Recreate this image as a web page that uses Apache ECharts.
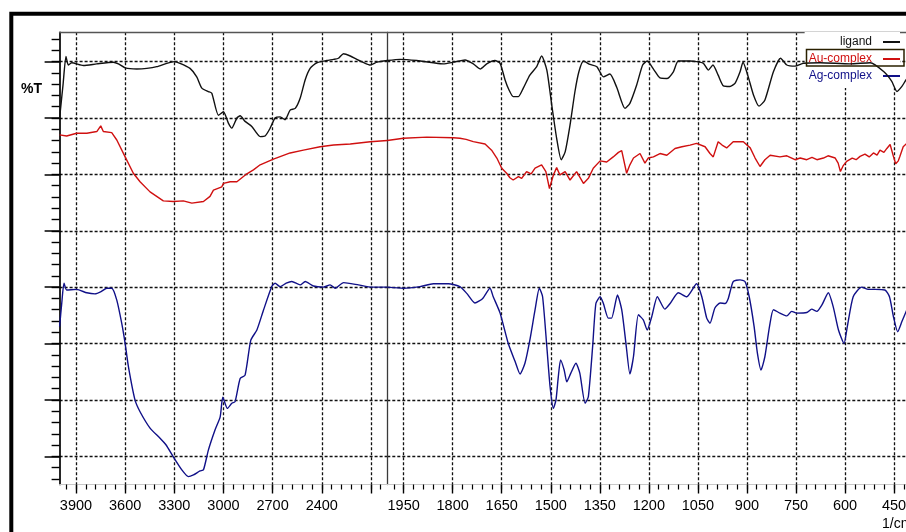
<!DOCTYPE html>
<html><head><meta charset="utf-8">
<script src="https://cdn.jsdelivr.net/npm/echarts@6/dist/echarts.min.js"></script>
<style>html,body{margin:0;padding:0;background:#fff}#c{width:906px;height:532px}</style>
</head><body><div id="c"></div>
<script>
// ---- data (wavenumber in 1/cm, transmittance in arbitrary %T units) ----
const ligandWn = [4000,3979,3961,3947,3926,3855,3773,3672,3641,3600,3529,3468,3407,3346,3300,3265,3204,3163,3132,3092,3071,3031,3000,2970,2949,2918,2898,2868,2827,2776,2746,2715,2685,2654,2624,2593,2562,2532,2501,2471,2430,2369,2328,2298,2267,2226,2186,2135,2104,2063,2000,
 1961,1910,1859,1829,1798,1762,1737,1716,1696,1671,1655,1640,1628,1615,1599,1584,1564,1543,1528,1512,1497,1482,1468,1456,1441,1426,1414,1400,1380,1359,1339,1319,1298,1273,1258,1237,1219,1205,1184,1166,1145,1125,1110,1074,1054,1033,1018,1004,988,972,952,936,921,912,896,880,863,845,819,797,778,753,727,676,585,523,481,457,441,426,413,401];
const ligandT = [65.0,70.9,75.9,74.4,74.8,74.3,74.6,74.9,74.6,73.9,73.7,73.8,74.1,74.7,75.0,74.7,73.8,72.3,70.3,69.7,69.4,65.5,66.1,64.1,63.2,65.0,65.4,64.4,63.5,61.7,61.8,63.2,65.0,65.2,64.7,66.4,66.7,68.5,71.8,73.8,74.8,75.2,75.4,75.6,76.4,76.0,75.4,74.7,74.4,74.9,75.2,
 75.4,75.2,74.8,74.6,74.9,75.3,74.6,73.7,74.6,75.2,74.7,71.8,70.0,68.8,68.8,70.3,72.6,74.1,76.0,73.5,67.3,61.4,57.6,59.0,63.8,69.7,73.2,75.1,74.5,74.1,72.3,72.8,70.4,66.7,67.6,70.9,74.4,75.1,73.5,72.1,72.0,73.2,75.1,75.1,75.0,74.7,73.5,74.4,72.6,70.7,70.6,71.2,73.2,74.9,72.3,69.1,67.1,68.2,73.2,75.6,74.4,74.2,74.7,74.8,74.6,74.8,73.2,71.5,69.7,70.6,71.8,72.6];

const auWn = [4000,3957,3896,3834,3773,3749,3733,3682,3651,3600,3550,3509,3448,3367,3306,3245,3193,3122,3082,3061,3010,3000,2959,2918,2857,2817,2776,2695,2593,2512,2410,2328,2226,2104,2000,
 1951,1879,1798,1778,1759,1737,1701,1681,1665,1650,1635,1625,1615,1599,1589,1574,1560,1548,1528,1515,1504,1492,1482,1472,1456,1441,1421,1400,1385,1370,1349,1329,1309,1293,1283,1268,1258,1247,1227,1212,1202,1186,1166,1145,1120,1099,1074,1054,1028,1013,1003,988,976,962,942,911,890,875,860,845,829,799,778,753,737,717,701,686,666,652,630,621,614,606,595,578,566,554,539,526,513,502,493,481,472,462,452,445,437,432,422,413,401];
const auT = [62.0,61.8,62.3,62.3,62.6,63.6,62.6,62.4,61.1,58.1,55.2,53.7,51.9,50.3,50.2,50.3,49.9,50.2,51.1,52.2,52.8,53.4,53.7,53.7,55.1,55.8,56.7,57.7,58.8,59.3,59.9,60.2,60.4,60.8,61.0,
 61.4,61.6,61.5,61.4,61.2,60.8,60.4,59.3,57.9,56.1,55.2,54.4,54.0,54.6,54.3,55.5,55.1,56.1,56.7,55.5,52.5,54.9,56.2,54.9,55.5,54.0,55.5,53.4,54.3,56.1,57.4,57.2,58.1,58.9,59.2,55.2,56.7,57.9,58.7,57.0,57.9,58.1,58.7,58.4,59.6,59.9,60.2,60.5,59.9,58.7,58.1,60.8,60.2,59.7,60.8,60.8,59.7,57.9,56.4,57.6,58.4,58.1,58.3,57.6,57.9,57.6,58.0,57.6,57.9,58.3,57.9,57.0,55.5,56.5,57.3,57.9,57.6,58.2,58.6,58.1,58.8,58.4,59.3,58.9,59.6,60.3,58.2,56.9,57.4,58.2,59.9,60.4,60.6];

const agWn = [4000,3987,3973,3957,3896,3834,3784,3747,3712,3682,3651,3621,3600,3580,3540,3509,3448,3387,3350,3306,3254,3214,3183,3143,3122,3092,3051,3020,3004,2976,2949,2929,2898,2868,2833,2796,2756,2705,2685,2654,2617,2583,2532,2501,2451,2390,2349,2318,2267,2176,2094,2000,
 1951,1900,1859,1813,1778,1757,1732,1708,1686,1676,1655,1630,1609,1594,1579,1564,1548,1535,1525,1512,1502,1492,1484,1477,1470,1459,1451,1439,1423,1411,1395,1385,1372,1362,1349,1339,1324,1314,1296,1283,1270,1258,1247,1232,1217,1205,1191,1174,1151,1135,1110,1084,1054,1038,1023,1013,998,982,967,957,942,921,906,893,878,868,857,845,831,819,799,778,763,748,717,702,686,671,651,636,620,603,593,575,549,529,508,478,464,452,439,426,413,401];
const agT = [28.0,32.1,35.7,34.5,34.6,34.0,33.8,34.2,34.8,34.8,32.7,28.6,25.0,20.9,15.0,12.9,10.0,8.2,7.0,4.9,2.6,1.4,1.7,2.4,2.6,6.1,9.7,12.0,15.5,13.5,14.4,14.7,18.8,19.4,25.6,27.4,30.9,35.1,35.7,35.1,35.7,36.0,35.4,36.0,35.2,35.0,35.4,34.8,35.8,35.4,35.0,35.0,
 34.8,35.1,35.6,35.6,35.1,33.9,32.2,33.0,34.8,33.3,30.4,25.0,21.8,19.6,21.5,25.6,31.0,34.8,33.3,24.4,17.3,13.5,15.0,19.1,22.1,20.3,18.2,19.7,21.5,19.7,14.4,15.6,24.4,32.1,33.3,32.1,29.5,29.5,33.6,31.0,25.0,19.6,22.7,30.1,29.2,27.4,29.8,33.3,31.1,32.1,34.0,33.3,35.6,33.3,29.5,28.6,31.3,32.2,32.1,33.0,36.0,36.3,36.0,33.3,28.0,23.3,20.3,22.7,28.0,31.0,30.4,29.9,30.7,30.4,30.5,31.1,30.7,31.8,34.0,31.5,27.4,25.0,28.0,33.3,35.0,34.6,34.6,34.5,33.3,29.8,27.1,28.9,30.7,32.4];

const seriesNames = ['ligand', 'Au-complex', 'Ag-complex'];
const leftTickLabels = [3900, 3600, 3300, 3000, 2700, 2400];
const leftMajorTicks = [3900, 3600, 3300, 3000, 2700, 2400, 2100];
const rightTickLabels = [1950, 1800, 1650, 1500, 1350, 1200, 1050, 900, 750, 600, 450];
const yMajorTicks = [5, 15, 25, 35, 45, 55, 65, 75];

// ---- styling / layout ----
const FONT = "'Liberation Sans',Arial,sans-serif";
const COLORS = ['#111111', '#d01010', '#101088'];
const dash = {type: [3, 2], color: '#111', width: 1.3};

const minorLeft = []; for (let v = 3960; v > 2000; v -= 60) minorLeft.push(v);
const minorRight = []; for (let v = 1980; v > 400; v -= 30) minorRight.push(v);
const yMinor = []; for (let v = 1; v < 80; v += 2) yMinor.push(v);

function part(wn, t, left) {
  const out = [];
  for (let i = 0; i < wn.length; i++) {
    if (left ? wn[i] >= 2000 : wn[i] <= 2000) out.push([wn[i], t[i]]);
  }
  return out;
}

function xAxes(grid, min, max, majors, labels, minors) {
  return [
    {gridIndex: grid, type: 'value', min: min, max: max, inverse: true, position: 'bottom',
     axisLine: {show: true, onZero: false, lineStyle: {color: '#c8c8c8', width: 1}},
     axisTick: {show: true, length: 9, customValues: majors, lineStyle: {color: '#000', width: 1.4}},
     axisLabel: {show: true, customValues: labels, formatter: function (v) { return String(v); },
                 fontFamily: FONT, fontSize: 14.5, color: '#000', margin: 14},
     splitLine: {show: true, lineStyle: dash}},
    {gridIndex: grid, type: 'value', min: min, max: max, inverse: true, position: 'bottom',
     axisLine: {show: false, onZero: false},
     axisTick: {show: true, length: 5, customValues: minors, lineStyle: {color: '#000', width: 1.2}},
     axisLabel: {show: false}, splitLine: {show: false}},
    {gridIndex: grid, type: 'value', min: min, max: max, inverse: true, position: 'top',
     axisLine: {show: true, onZero: false, lineStyle: {color: '#555', width: 1.3}},
     axisTick: {show: false}, axisLabel: {show: false}, splitLine: {show: false}}
  ];
}

const wns = [ligandWn, auWn, agWn];
const ts = [ligandT, auT, agT];
const series = [];
for (let k = 0; k < 3; k++) {
  [true, false].forEach(function (left) {
    series.push({
      name: seriesNames[k], type: 'line', showSymbol: false, symbol: 'none',
      xAxisIndex: left ? 0 : 3, yAxisIndex: left ? 0 : 2,
      smooth: k === 1 ? false : 0.2,
      lineStyle: {color: COLORS[k], width: 1.4}, itemStyle: {color: COLORS[k]},
      data: part(wns[k], ts[k], left), z: 3 + (2 - k)
    });
  });
}

const chart = echarts.init(document.getElementById('c'), null, {renderer: 'canvas'});
chart.setOption({
  animation: false,
  backgroundColor: '#fff',
  grid: [
    {left: 59.6, top: 32.3, width: 327.7, height: 452.2, outerBoundsMode: 'none', containLabel: false},
    {left: 387.3, top: 32.3, width: 523.1, height: 452.2, outerBoundsMode: 'none', containLabel: false}
  ],
  xAxis: xAxes(0, 2000, 4000, leftMajorTicks, leftTickLabels, minorLeft)
    .concat(xAxes(1, 400, 2000, rightTickLabels, rightTickLabels, minorRight)),
  yAxis: [
    {gridIndex: 0, type: 'value', min: 0, max: 80.2, position: 'left',
     axisLine: {show: true, onZero: false, lineStyle: {color: '#000', width: 1.7}},
     axisTick: {show: true, length: 15, customValues: yMajorTicks, lineStyle: {color: '#000', width: 1.5}},
     axisLabel: {show: false}, splitLine: {show: true, lineStyle: dash}},
    {gridIndex: 0, type: 'value', min: 0, max: 80.2, position: 'left',
     axisLine: {show: false, onZero: false},
     axisTick: {show: true, length: 8, customValues: yMinor, lineStyle: {color: '#000', width: 1.4}},
     axisLabel: {show: false}, splitLine: {show: false}},
    {gridIndex: 1, type: 'value', min: 0, max: 80.2, position: 'left',
     axisLine: {show: true, onZero: false, lineStyle: {color: '#3a3a3a', width: 1.3}},
     axisTick: {show: false, customValues: yMajorTicks},
     axisLabel: {show: false}, splitLine: {show: true, lineStyle: dash}}
  ],
  legend: {
    orient: 'vertical', right: 6, top: 32, align: 'right',
    itemWidth: 17, itemHeight: 2, itemGap: 1, icon: 'rect',
    backgroundColor: '#fff', padding: [2, 0, 4, 4],
    textStyle: {fontFamily: FONT, fontSize: 12, lineHeight: 16, padding: [0, 6, 0, 0]},
    data: [
      {name: seriesNames[0], textStyle: {color: COLORS[0]}},
      {name: seriesNames[1], textStyle: {color: COLORS[1]}},
      {name: seriesNames[2], textStyle: {color: COLORS[2]}}
    ]
  },
  graphic: [
    {type: 'rect', silent: true, z: 0, shape: {x: 11.3, y: 13.7, width: 1000, height: 1000},
     style: {fill: 'none', stroke: '#000', lineWidth: 4}},
    {type: 'rect', silent: true, z: 100, shape: {x: 806.5, y: 49.5, width: 97.5, height: 16.5},
     style: {fill: 'none', stroke: '#2a2000', lineWidth: 1.5}},
    {type: 'text', silent: true, z: 100, x: 21, y: 82,
     style: {text: '%T', fontFamily: FONT, fontSize: 14, fontWeight: 'bold', fill: '#000', verticalAlign: 'top'}},
    {type: 'text', silent: true, z: 100, x: 882, y: 517,
     style: {text: '1/cm', fontFamily: FONT, fontSize: 14, fill: '#000', verticalAlign: 'top'}}
  ],
  series: series
});
</script>
</body></html>
